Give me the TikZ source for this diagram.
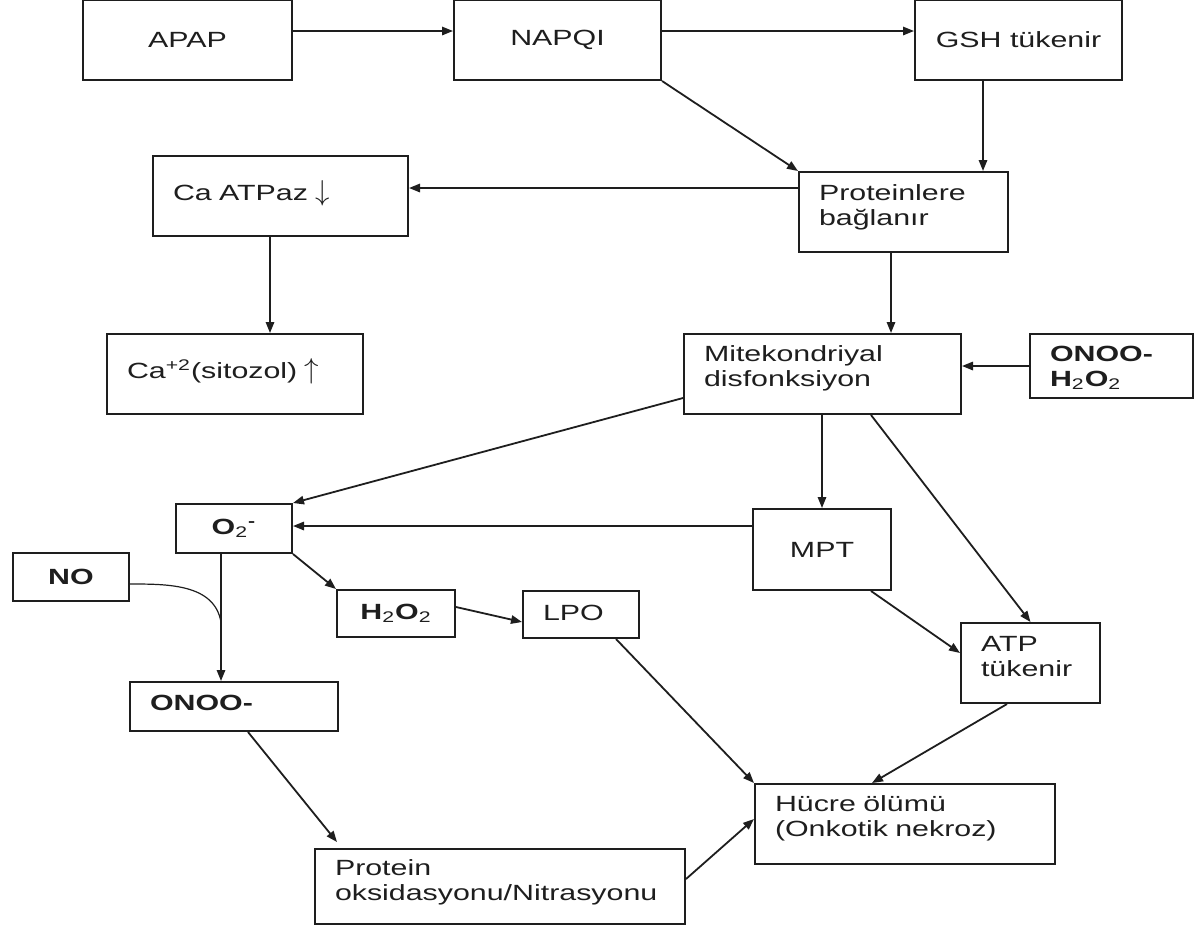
\documentclass[tikz,border=0pt]{standalone}
\usepackage{fontspec}
\setmainfont{Liberation Sans}[FakeStretch=1.38]
\usepackage{xcolor}
\usepackage{tikz}
\usetikzlibrary{arrows.meta}
\definecolor{diagink}{HTML}{1E1E1E}
\hyphenpenalty=10000
\exhyphenpenalty=10000
\newcommand{\tallarrow}[1]{{\fontsize{15pt}{15pt}\selectfont$\mathord{#1}$}}
\tikzset{
  >={Triangle[length=5.5pt,width=4.2pt]},
  basebox/.style={rectangle,draw=diagink,line width=1pt,inner sep=0pt,
                  font=\fontsize{11pt}{12.5pt}\selectfont,text=diagink},
  midbox/.style={basebox,align=center},
  textbox/.style={basebox,anchor=north west,align=left,inner xsep=10pt,
                  inner ysep=0pt,text height=14pt},
  boldtext/.style={font=\fontsize{11pt}{12.5pt}\selectfont\bfseries},
  flowarrow/.style={->,line width=0.9pt,draw=diagink},
  joinline/.style={line width=0.6pt,draw=diagink},
}

\begin{document}
\begin{tikzpicture}[x=0.5pt,y=-0.5pt]
  \useasboundingbox (0,0) rectangle (1204,928);
  % upper part
  \node[midbox,minimum width=104.5pt,minimum height=40pt] (apap) at (187.5,40) {APAP};
  \node[midbox,minimum width=103.5pt,minimum height=40pt] (napqi) at (557.5,40) {NAPQI};
  \node[midbox,minimum width=103.5pt,minimum height=40pt] (gsh) at (1018.5,40) {GSH tükenir};
  \node[textbox,text width=84.5pt,text depth=26pt] (prot) at (798,171) {Proteinlere\\bağlanır};
  \node[textbox,text width=107.5pt,text height=22pt,text depth=18pt] (catpaz) at (152,155) {Ca ATPaz \tallarrow{\downarrow}};
  \node[textbox,text width=108pt,text height=22pt,text depth=18pt] (cacyt) at (106,333) {Ca\textsuperscript{+2}(sitozol) \tallarrow{\uparrow}};
  \node[textbox,text width=118.5pt,text height=13.5pt,text depth=26.5pt] (mito) at (683,333) {Mitekondriyal\\disfonksiyon};
  \node[textbox,boldtext,text width=61.5pt,text height=13.5pt,text depth=18.5pt] (ros) at (1029,333) {ONOO-\\H\textsubscript{\mdseries 2}O\textsubscript{\mdseries 2}};
  % lower part
  \node[midbox,boldtext,minimum width=58pt,minimum height=24.5pt] (oxy) at (234,528.5) {O\textsubscript{\mdseries 2}\textsuperscript{-}};
  \node[midbox,minimum width=69pt,minimum height=40.5pt] (mpt) at (822,549.5) {MPT};
  \node[midbox,boldtext,minimum width=58pt,minimum height=24pt] (no) at (71,577) {NO};
  \node[midbox,boldtext,minimum width=59pt,minimum height=23.5pt] (hpo) at (396,613.5) {H\textsubscript{\mdseries 2}O\textsubscript{\mdseries 2}};
  \node[textbox,text width=38pt,text height=14.5pt,text depth=9pt] (lpo) at (522,590) {LPO};
  \node[textbox,boldtext,text width=84pt,text depth=10.5pt] (onoo) at (129,681) {ONOO-};
  \node[textbox,text width=49.5pt,text depth=26pt] (atp) at (960,622) {ATP\\tükenir};
  \node[textbox,text width=130pt,text height=13.5pt,text depth=26.5pt] (cell) at (754,783) {Hücre ölümü\\(Onkotik nekroz)};
  \node[textbox,text width=165pt,text height=13pt,text depth=24.5pt] (protox) at (314,848) {Protein\\oksidasyonu/Nitrasyonu};
  \coordinate (nojoin) at (221,622);
  % connectors
  \draw[flowarrow] ([yshift=4.5pt]apap.east) -- ([yshift=4.5pt]napqi.west);
  \draw[flowarrow] ([yshift=4.5pt]napqi.east) -- ([yshift=4.5pt]gsh.west);
  \draw[flowarrow] (napqi.south east) -- (prot.north west);
  \draw[flowarrow] ([xshift=-17.75pt]gsh.south) -- ([xshift=-17.75pt]gsh.south |- prot.north);
  \draw[flowarrow] ([yshift=12pt]prot.west) -- ([yshift=12pt]prot.west -| catpaz.east);
  \draw[flowarrow] ([xshift=-5.25pt]catpaz.south) -- ([xshift=-5.25pt]catpaz.south |- cacyt.north);
  \draw[flowarrow] ([xshift=-6.25pt]prot.south) -- ([xshift=-6.25pt]prot.south |- mito.north);
  \draw[flowarrow] (ros.west) -- (ros.west -| mito.east);
  \draw[flowarrow] ([yshift=-12pt]mito.west) -- (oxy.north east);
  \draw[flowarrow] (mpt.north |- mito.south) -- (mpt.north);
  \draw[flowarrow] ([xshift=24.25pt]mito.south) -- (atp.north);
  \draw[flowarrow] ([yshift=11.75pt]mpt.west) -- ([yshift=11.75pt]mpt.west -| oxy.east);
  \draw[flowarrow] ([xshift=-10.5pt]mpt.south east) -- ([yshift=5pt]atp.west);
  \draw[flowarrow] ([xshift=-6.5pt]oxy.south) -- ([xshift=-6.5pt]oxy.south |- onoo.north);
  \draw[joinline] ([yshift=-3.5pt]no.east) to[out=0,in=100] (nojoin);
  \draw[flowarrow] (oxy.south east) -- (hpo.north west);
  \draw[flowarrow] ([yshift=3.25pt]hpo.east) -- ([yshift=-3.75pt]lpo.west);
  \draw[flowarrow] ([xshift=17.5pt]lpo.south) -- (cell.north west);
  \draw[flowarrow] ([xshift=-11.75pt]atp.south) -- ([xshift=-16.5pt]cell.north);
  \draw[flowarrow] ([xshift=7pt]onoo.south) -- ([shift={(11.5pt,3pt)}]protox.north west);
  \draw[flowarrow] ([yshift=3.75pt]protox.east) -- ([yshift=2.5pt]cell.west);
\end{tikzpicture}
\end{document}
